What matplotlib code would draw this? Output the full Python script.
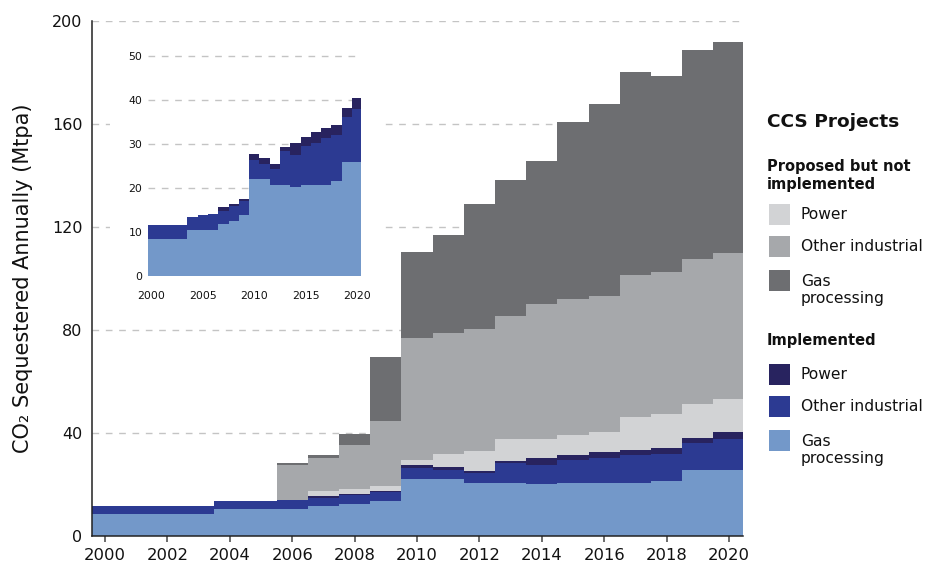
import numpy as np
import matplotlib
matplotlib.use('Agg')
import matplotlib.pyplot as plt
from matplotlib.patches import Rectangle

plt.rcParams['font.family'] = ['DejaVu Sans']

years = list(range(2000, 2021))

# Implemented projects (Mtpa)
impl_gas = [8.4, 8.4, 8.4, 8.4, 10.5, 10.5, 10.5, 11.8, 12.5, 13.7, 22.0,
            22.0, 20.7, 20.7, 20.1, 20.7, 20.7, 20.7, 21.5, 25.8, 25.8]
impl_other = [3.2, 3.2, 3.2, 3.2, 2.9, 3.2, 3.5, 3.0, 3.4, 3.2, 4.4,
              3.5, 3.6, 7.6, 7.4, 8.7, 9.4, 10.6, 10.5, 10.2, 12.0]
impl_power = [0, 0, 0, 0, 0, 0, 0, 0.8, 0.4, 0.5, 1.3,
              1.2, 1.1, 1.0, 2.6, 2.1, 2.5, 2.2, 2.3, 2.1, 2.5]

# Proposed but not implemented (Mtpa)
prop_power = [0, 0, 0, 0, 0, 0, 0, 1.9, 2.1, 2.2, 1.8,
              5.1, 7.7, 8.2, 7.4, 7.6, 7.8, 12.6, 13.1, 13.2, 12.8]
prop_other = [0, 0, 0, 0, 0, 0, 13.7, 12.9, 16.9, 24.9, 47.3,
              46.9, 47.3, 48.1, 52.5, 52.8, 52.8, 55.3, 55.2, 56.2, 56.9]
prop_gas = [0, 0, 0, 0, 0, 0, 0.6, 1.2, 4.4, 25.0, 33.4,
            38.2, 48.4, 52.7, 55.8, 68.7, 74.4, 78.7, 76.0, 81.2, 81.7]

c_impl_gas = '#7398c9'
c_impl_other = '#2c3a92'
c_impl_power = '#28235f'
c_prop_power = '#d2d3d5'
c_prop_other = '#a6a8ab'
c_prop_gas = '#6d6e71'

W, H = 928, 565
fig = plt.figure(figsize=(W / 100, H / 100), dpi=100)

# step edges: each year covers year-0.5 .. year+0.5
edges = np.append(np.array(years) - 0.5, years[-1] + 0.5)


def ext(v):
    return np.append(v, v[-1])


ax = fig.add_axes([92 / W, 29 / H, 651 / W, 515 / H])
ax.stackplot(edges, ext(impl_gas), ext(impl_other), ext(impl_power),
             ext(prop_power), ext(prop_other), ext(prop_gas), step='post',
             colors=[c_impl_gas, c_impl_other, c_impl_power,
                     c_prop_power, c_prop_other, c_prop_gas],
             linewidth=0)
ax.set_xlim(1999.58, 2020.45)
ax.set_ylim(0, 200)
ax.set_xticks(range(2000, 2021, 2))
ax.set_yticks(range(0, 201, 40))
ax.set_axisbelow(True)
ax.yaxis.grid(True, color='#c4c4c4', lw=1.0, dashes=(4.8, 4.8))
for s in ['top', 'right']:
    ax.spines[s].set_visible(False)
for s in ['left', 'bottom']:
    ax.spines[s].set_linewidth(1.1)
    ax.spines[s].set_color('#222222')
ax.tick_params(axis='y', length=0, pad=7, labelsize=11.5, labelcolor='#111111')
ax.tick_params(axis='x', length=4, width=1.1, color='#444444', pad=5,
               labelsize=11.8, labelcolor='#111111')
ax.set_ylabel('CO₂ Sequestered Annually (Mtpa)', fontsize=15, color='#111111')
ax.yaxis.set_label_coords(-0.0906, 0.5)

# white backing behind the inset so main gridlines don't show through
ax.add_patch(Rectangle(((110 - 92) / 651, (536 - 315) / 515),
                       (385 - 110) / 651, (315 - 28) / 515,
                       transform=ax.transAxes, facecolor='white',
                       edgecolor='none', zorder=0.8))

# inset: implemented only
axi = fig.add_axes([148 / W, (H - 275.7) / H, 213 / W, 228.8 / H])
axi.stackplot(edges, ext(impl_gas), ext(impl_other), ext(impl_power),
              step='post', colors=[c_impl_gas, c_impl_other, c_impl_power],
              linewidth=0)
axi.set_xlim(1999.67, 2020.37)
axi.set_ylim(0, 52)
axi.set_xticks(range(2000, 2021, 5))
axi.set_yticks(range(0, 51, 10))
axi.set_axisbelow(True)
axi.yaxis.grid(True, color='#c4c4c4', lw=1.0, dashes=(4.8, 4.8))
for s in axi.spines.values():
    s.set_visible(False)
axi.tick_params(axis='y', length=0, pad=4, labelsize=7.8, labelcolor='#111111')
axi.tick_params(axis='x', length=0, pad=11, labelsize=7.8, labelcolor='#111111')
axi.patch.set_alpha(0)


# legend built by hand
def fx(px):
    return px / W


def fy(py):
    return 1 - py / H


fig.text(fx(767), fy(122), 'CCS Projects', fontsize=13.3, fontweight='bold',
         va='center', ha='left', color='#111111')
fig.text(fx(767), fy(175), 'Proposed but not\nimplemented', fontsize=10.5,
         fontweight='bold', va='center', ha='left', linespacing=1.25,
         color='#111111')
fig.text(fx(767), fy(341), 'Implemented', fontsize=10.5, fontweight='bold',
         va='center', ha='left', color='#111111')

legend_rows = [
    (214.5, c_prop_power, 'Power'),
    (246.5, c_prop_other, 'Other industrial'),
    (280.5, c_prop_gas, 'Gas\nprocessing'),
    (374.5, c_impl_power, 'Power'),
    (406.5, c_impl_other, 'Other industrial'),
    (440.5, c_impl_gas, 'Gas\nprocessing'),
]
for yc, col, lab in legend_rows:
    fig.add_artist(Rectangle((fx(769), fy(yc + 10.5)), 21 / W, 21 / H,
                             transform=fig.transFigure, facecolor=col,
                             edgecolor='none'))
    if '\n' in lab:
        fig.text(fx(801), fy(yc - 6), lab, fontsize=11.2, va='top',
                 ha='left', linespacing=1.12, color='#111111')
    else:
        fig.text(fx(801), fy(yc), lab, fontsize=11.2, va='center',
                 ha='left', color='#111111')

fig.savefig('out.png', dpi=100)
